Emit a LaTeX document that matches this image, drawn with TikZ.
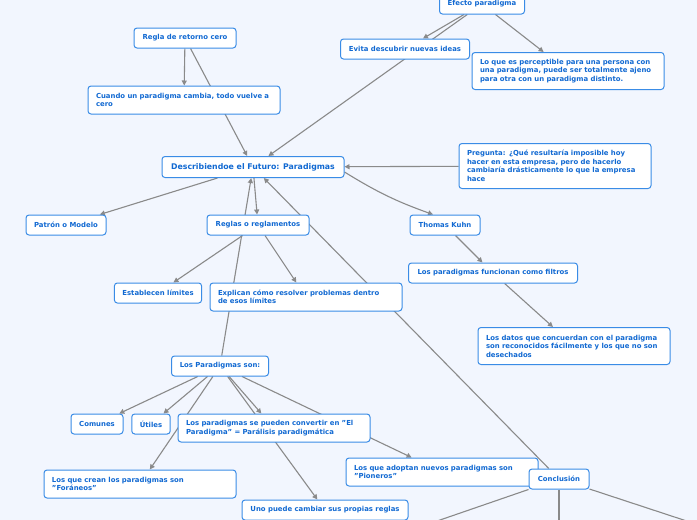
\documentclass[tikz,border=0pt]{standalone}
\usepackage{fontspec}
\setmainfont{DejaVu Sans}
\usepackage{xcolor}
\usepackage{tikz}
\usetikzlibrary{arrows.meta,positioning}
\definecolor{mapbg}{HTML}{F2F6FE}
\definecolor{mapline}{HTML}{3A8CE6}
\definecolor{maptext}{HTML}{1169D2}
\definecolor{mapedge}{HTML}{8A8A8A}
\pgfdeclarelayer{edgelayer}
\pgfsetlayers{edgelayer,main}
\tikzset{
  topic/.style={rounded corners=3pt,draw=mapline,line width=1pt,fill=white,text=maptext,
    font=\bfseries\fontsize{6.9}{8.5}\selectfont,inner xsep=8pt,inner ysep=2pt,minimum height=20pt},
  note/.style={topic,text width=176pt,align=left},
  root/.style={topic,font=\bfseries\fontsize{7.8}{9}\selectfont,minimum height=21pt},
  ar/.style={-{Triangle[length=5pt,width=5pt]},draw=mapedge,line width=1.1pt},
  ln/.style={draw=mapedge,line width=1.1pt},
}
\begin{document}
\begin{tikzpicture}[x=1pt,y=-1pt]
  \begin{pgfonlayer}{edgelayer}
    \fill[mapbg] (0,0) rectangle (697,520);
  \end{pgfonlayer}
  \useasboundingbox (0,0) rectangle (697,520);

  % central topic
  \node[root,minimum width=182pt] (futuro) at (253,167) {Describiendoe el Futuro: Paradigmas};

  % upper branch
  \node[topic,minimum width=102pt] (retorno) at (185,38) {Regla de retorno cero};
  \node[note,minimum height=28pt] (cuando) at (184,100) {Cuando un paradigma cambia, todo vuelve a\\cero};
  \node[topic,minimum width=85pt] (efecto) at (482,4) {Efecto paradigma};
  \node[topic,minimum width=129pt] (evita) at (405,49) {Evita descubrir nuevas ideas};
  \node[note,minimum height=37pt] (percep) at (568,71) {Lo que es perceptible para una persona con\\una paradigma, puede ser totalmente ajeno\\para otra con un paradigma distinto.};
  \node[note,minimum height=45pt] (pregunta) at (555,166) {Pregunta: ¿Qué resultaría imposible hoy\\hacer en esta empresa, pero de hacerlo\\cambiaría drásticamente lo que la empresa\\hace};

  % middle row
  \node[topic,minimum width=80pt] (patron) at (66,225) {Patrón o Modelo};
  \node[topic,minimum width=102pt] (reglas) at (258,225) {Reglas o reglamentos};
  \node[topic,minimum width=70pt] (kuhn) at (445,225) {Thomas Kuhn};
  \node[topic,minimum width=169pt] (filtros) at (493,273) {Los paradigmas funcionan como filtros};
  \node[note,minimum height=37pt] (datos) at (574,346) {Los datos que concuerdan con el paradigma\\son reconocidos fácilmente y los que no son\\desechados};
  \node[topic,minimum width=87pt] (limites) at (158,293) {Establecen límites};
  \node[note,minimum height=28pt] (explican) at (306,297) {Explican cómo resolver problemas dentro\\de esos límites};

  % lower branch
  \node[topic,minimum width=97pt] (son) at (220,366) {Los Paradigmas son:};
  \node[topic,minimum width=52pt] (comunes) at (97,424) {Comunes};
  \node[topic,minimum width=38pt] (utiles) at (151,424) {Útiles};
  \node[note,minimum height=28pt] (paralisis) at (274,428) {Los paradigmas se pueden convertir en "El\\Paradigma" = Parálisis paradigmática};
  \node[note,minimum height=28pt] (foraneos) at (140,484) {Los que crean los paradigmas son\\"Foráneos"};
  \node[note,minimum height=28pt] (pioneros) at (442,472) {Los que adoptan nuevos paradigmas son\\"Pioneros"};
  \node[topic,minimum width=166pt] (propias) at (325,510) {Uno puede cambiar sus propias reglas};
  \node[topic,minimum width=60pt] (conclusion) at (559,479) {Conclusión};

  % loose ends below the page
  \coordinate (offa) at (411,530);
  \coordinate (offb) at (559,530);
  \coordinate (offc) at (714,530);

  \begin{pgfonlayer}{edgelayer}
    \draw[ar] (retorno) -- (cuando);
    \draw[ar] (retorno) -- (futuro);
    \draw[ar] (efecto) -- (evita);
    \draw[ar] (efecto) -- (futuro);
    \draw[ar] (efecto) -- (percep);
    \draw[ar] (pregunta) -- (futuro);
    \draw[ar] (futuro) -- (patron);
    \draw[ar] (futuro) -- (reglas);
    \draw[ar] ([yshift=-5pt]futuro.east) to[bend right=6] ([xshift=-12pt]kuhn.north);
    \draw[ar] (son) -- (futuro);
    \draw[ar] (conclusion) -- (futuro);
    \draw[ar] (reglas) -- (limites);
    \draw[ar] (reglas) -- (explican);
    \draw[ar] (kuhn) -- (filtros);
    \draw[ar] (filtros) -- (datos);
    \draw[ar] (son) -- (comunes);
    \draw[ar] (son) -- (utiles);
    \draw[ar] (son) -- (foraneos);
    \draw[ar] (son) -- (paralisis);
    \draw[ar] (son) -- (propias);
    \draw[ar] (son) -- (pioneros);
    \draw[ln] (conclusion) -- (offa);
    \draw[ln] (conclusion) -- (offb);
    \draw[ln] (conclusion) -- (offc);
  \end{pgfonlayer}
\end{tikzpicture}
\end{document}
